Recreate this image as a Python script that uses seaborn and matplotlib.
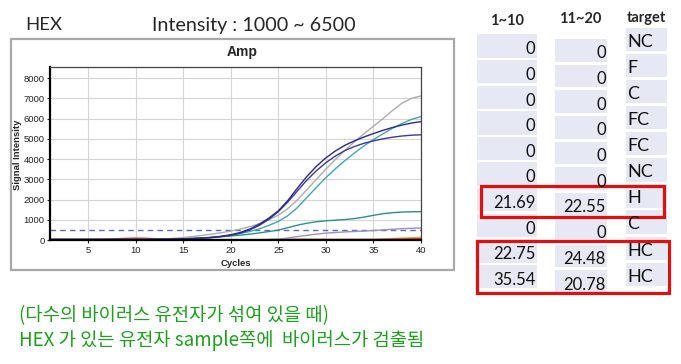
import numpy as np
import pandas as pd
import matplotlib.pyplot as plt
from matplotlib.patches import Rectangle
import seaborn as sns

# amplification curves, cycles 1..40
cycles = list(range(1, 41))

blue_a = [30, 30, 30, 30, 30, 30, 30, 30, 30, 30, 30, 35, 40, 50, 60, 80, 100, 130, 180, 260,
          370, 540, 780, 1080, 1440, 1950, 2560, 3140, 3640, 4060, 4400, 4680, 4900, 5090, 5260,
          5420, 5560, 5680, 5780, 5850]
blue_b = [30, 30, 30, 30, 30, 30, 30, 30, 30, 30, 30, 35, 40, 50, 60, 75, 95, 125, 170, 230,
          340, 500, 720, 1020, 1400, 1880, 2420, 2960, 3420, 3820, 4150, 4420, 4620, 4780, 4900,
          5000, 5080, 5140, 5180, 5200]
gray_hi = [30, 30, 30, 30, 30, 30, 30, 30, 30, 30, 30, 30, 50, 80, 120, 170, 230, 290, 360, 440,
           540, 660, 810, 1000, 1230, 1550, 1980, 2480, 3000, 3500, 3980, 4430, 4850, 5250, 5620,
           6000, 6400, 6760, 7000, 7120]
teal_hi = [20, 20, 20, 20, 20, 20, 20, 20, 20, 20, 20, 20, 20, 20, 40, 60, 90, 130, 180, 240,
           320, 420, 550, 720, 920, 1200, 1600, 2100, 2600, 3080, 3520, 3920, 4300, 4650, 4960,
           5250, 5520, 5760, 5960, 6100]
teal_lo = [20, 20, 20, 20, 20, 20, 20, 20, 20, 20, 20, 20, 20, 20, 40, 60, 90, 120, 160, 200,
           240, 290, 350, 420, 490, 610, 730, 830, 900, 950, 980, 1010, 1060, 1130, 1220,
           1300, 1350, 1380, 1395, 1400]
lilac_lo = [15, 15, 15, 15, 15, 15, 15, 15, 15, 15, 15, 15, 15, 15, 15, 15, 15, 15, 15, 15,
            15, 15, 15, 20, 40, 100, 170, 230, 290, 340, 370, 400, 420, 440, 470,
            500, 530, 560, 580, 590]
red_lo = [20, 20, 20, 20, 25, 30, 45, 65, 80, 90, 85, 65, 45, 30, 25, 20, 20, 20, 20, 20,
          20, 20, 20, 20, 20, 20, 20, 20, 20, 20, 20, 20, 20, 20, 20,
          25, 35, 45, 55, 65]
orange_lo = [10, 10, 10, 10, 10, 10, 10, 10, 10, 10, 10, 10, 10, 10, 10, 10, 10, 10, 10, 10,
             10, 10, 10, 10, 10, 20, 20, 20, 20, 20, 20, 20, 30, 30, 30,
             50, 70, 90, 110, 130]
yellow_lo = [5, 5, 5, 5, 5, 5, 5, 5, 5, 5, 5, 5, 5, 5, 5, 5, 5, 5, 5, 5,
             5, 5, 15, 30, 45, 55, 60, 55, 50, 45, 45, 45, 40, 40, 40,
             40, 40, 40, 40, 40]
threshold = 500

series = {
    'yellow': yellow_lo, 'orange': orange_lo, 'red': red_lo, 'lilac': lilac_lo,
    'teal_lo': teal_lo, 'teal_hi': teal_hi, 'gray': gray_hi, 'blue_b': blue_b, 'blue_a': blue_a,
}
colors = {
    'yellow': '#d8cc3c', 'orange': '#f09a30', 'red': '#e02424', 'lilac': '#9890c0',
    'teal_lo': '#2e9080', 'teal_hi': '#48a4b0', 'gray': '#adadad', 'blue_b': '#3c3896',
    'blue_a': '#2c2a86',
}

# Ct table
ct_1_10 = ['0', '0', '0', '0', '0', '0', '21.69', '0', '22.75', '35.54']
ct_11_20 = ['0', '0', '0', '0', '0', '0', '22.55', '0', '24.48', '20.78']
targets = ['NC', 'F', 'C', 'FC', 'FC', 'NC', 'H', 'C', 'HC', 'HC']
headers = ['1~10', '11~20', 'target']

rows = []
for name, vals in series.items():
    for c, v in zip(cycles, vals):
        rows.append({'well': name, 'cycle': c, 'signal': v})
df = pd.DataFrame(rows)

sns.set_theme(style='white')
plt.rcParams['font.family'] = ['Liberation Sans', 'DejaVu Sans']

W, H = 681, 364
fig = plt.figure(figsize=(W / 100, H / 100), dpi=100)
fig.patch.set_facecolor('white')


def fx(x):
    return x / W


def fy(y):
    return 1 - y / H


def box(x0, y0, x1, y1, **kw):
    fig.add_artist(Rectangle((fx(x0), fy(y1)), (x1 - x0) / W, (y1 - y0) / H,
                             transform=fig.transFigure, **kw))


# gray panel around the screenshot chart
box(11, 38.5, 454, 270, facecolor='none', edgecolor='#a8a8a8', linewidth=1.6)

ax = fig.add_axes([fx(50), fy(240), (421 - 50) / W, (240 - 67) / H])
ax.set_facecolor('white')
sns.lineplot(data=df, x='cycle', y='signal', hue='well', palette=colors,
             linewidth=1.0, legend=False, ax=ax, sort=True)
ax.axhline(threshold, color='#5a68d0', linestyle=(0, (4, 3)), linewidth=1.0, zorder=1)

ax.set_xlim(1, 40)
ax.set_ylim(0, 8550)
ax.set_xticks(range(5, 41, 5))
ax.set_yticks(range(0, 8001, 1000))
ax.grid(True, color='#d4d4d4', linewidth=0.8)
ax.tick_params(axis='both', labelsize=6.8, colors='#222222', length=2.5, width=0.8,
               direction='out', pad=1.5)
ax.tick_params(axis='x', bottom=True)
ax.tick_params(axis='y', left=True)
ax.set_xlabel('')
ax.set_ylabel('')
for s in ['left', 'bottom']:
    ax.spines[s].set_color('black')
    ax.spines[s].set_linewidth(1.6)
for s in ['top', 'right']:
    ax.spines[s].set_color('#444444')
    ax.spines[s].set_linewidth(0.9)

fig.text(fx(242), fy(56), 'Amp', ha='center', va='baseline', fontsize=10, fontweight='bold')
fig.text(fx(236), fy(266), 'Cycles', ha='center', va='baseline', fontsize=6.8, fontweight='bold')
fig.text(fx(18), fy(155), 'Signal Intensity', ha='center', va='center', rotation=90,
         fontsize=6.8, fontweight='bold')

lato = ['Lato', 'DejaVu Sans']
fig.text(fx(25), fy(30.5), 'HEX', ha='left', va='baseline', fontsize=13.3, family=lato)
fig.text(fx(152), fy(30.5), 'Intensity : 1000 ~ 6500', ha='left', va='baseline',
         fontsize=14.2, family=lato)

# table
cell_c = '#e6e9f3'
fig.text(fx(507), fy(25), headers[0], ha='center', va='baseline', fontsize=10.5,
         fontweight='bold', family=lato)
fig.text(fx(580), fy(22.7), headers[1], ha='center', va='baseline', fontsize=10.5,
         fontweight='bold', family=lato)
fig.text(fx(646), fy(21.7), headers[2], ha='center', va='baseline', fontsize=10.5,
         fontweight='bold', family=lato)

for i in range(len(targets)):
    t1 = 34.3 + 25.6 * i
    box(477, t1, 537, t1 + 23.5, facecolor=cell_c, edgecolor='none')
    fig.text(fx(535.5), fy(t1 + 20), ct_1_10[i], ha='right', va='baseline',
             fontsize=12, family=lato, color='#111111')
    t2 = 39 + 25.7 * i
    box(555, t2, 607, t2 + 22.7, facecolor=cell_c, edgecolor='none')
    fig.text(fx(606), fy(t2 + 19.3), ct_11_20[i], ha='right', va='baseline',
             fontsize=12, family=lato, color='#111111')
    t3 = 27.7 + 26.1 * i
    box(626, t3, 667, t3 + 23.3, facecolor=cell_c, edgecolor='none')
    fig.text(fx(627.5), fy(t3 + 19), targets[i], ha='left', va='baseline',
             fontsize=13, family=lato, color='#111111')

box(481, 186, 664, 217, facecolor='none', edgecolor='#e01010', linewidth=2.3)
box(477, 241, 669, 293, facecolor='none', edgecolor='#e01010', linewidth=2.3)

kr = ['Noto Sans CJK KR', 'DejaVu Sans']
green = '#1f9f1f'
fig.text(fx(19), fy(321), '(다수의 바이러스 유전자가 섞여 있을 때)', ha='left', va='baseline',
         fontsize=13.5, family=kr, color=green)
fig.text(fx(19), fy(346), 'HEX 가 있는 유전자 sample쪽에  바이러스가 검출됨', ha='left',
         va='baseline', fontsize=13.5, family=kr, color=green)

fig.savefig('out.png', dpi=100)
